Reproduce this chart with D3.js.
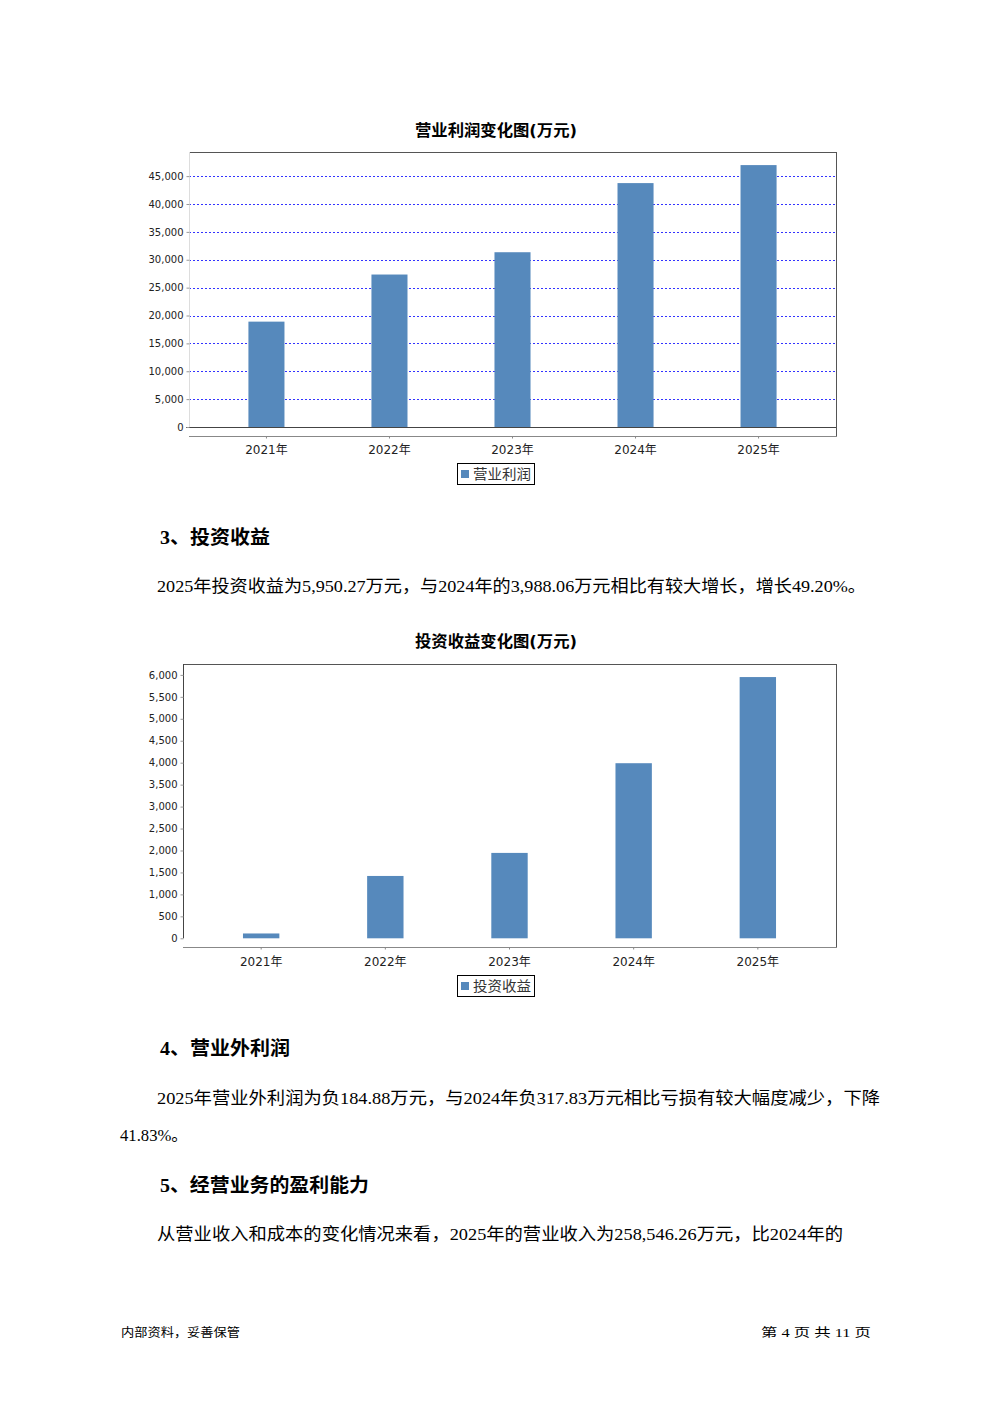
<!DOCTYPE html>
<html><head><meta charset="utf-8">
<script src="https://cdn.jsdelivr.net/npm/d3@7"></script>
<style>
html,body{margin:0;padding:0;background:#fff;}
svg{display:block;}
</style></head>
<body>
<svg id="page" width="992" height="1403"></svg>
<script>
// ---- data ----
const years = ["2021年", "2022年", "2023年", "2024年", "2025年"];
const opProfit = [18900, 27350, 31350, 43750, 46980];
const invIncome = [110, 1420, 1945, 3988.06, 5950.27];
const opTicks = [0, 5000, 10000, 15000, 20000, 25000, 30000, 35000, 40000, 45000];
const invTicks = [0, 500, 1000, 1500, 2000, 2500, 3000, 3500, 4000, 4500, 5000, 5500, 6000];
const opTitle = "营业利润变化图(万元)";
const invTitle = "投资收益变化图(万元)";
const opLegend = "营业利润";
const invLegend = "投资收益";

const svg = d3.select("#page");
const fmt = d3.format(",");
const BAR = "#5689bc";
const serif = "'Liberation Serif','Noto Sans CJK SC',serif";
const sans = "'DejaVu Sans','Noto Sans CJK SC',sans-serif";

function text(x, y, str, opt) {
  const t = svg.append("text").attr("x", x).attr("y", y).text(str)
    .attr("dominant-baseline", "central")
    .attr("font-family", opt.family || serif)
    .attr("font-size", opt.size || 17)
    .attr("font-weight", opt.weight || "normal")
    .attr("fill", opt.fill || "#000");
  if (opt.anchor) t.attr("text-anchor", opt.anchor);
  if (opt.len) t.attr("textLength", opt.len).attr("lengthAdjust", "spacingAndGlyphs");
  return t;
}

function barChart(cfg) {
  const {left, right, top, zeroY, axisY, values, ticks, grid, title, legend, yAxisColor, zeroLine} = cfg;
  const x = d3.scaleBand().domain(years).range([left, right]).paddingInner(0.707).paddingOuter(0.483);
  const y = d3.scaleLinear().domain([0, d3.max(values) * 1.05]).range([zeroY, top]);
  const g = svg.append("g");

  text((cfg.titleX0 + cfg.titleX1) / 2, cfg.titleY, title, {size: 16, weight: "bold", anchor: "middle", len: cfg.titleX1 - cfg.titleX0, family: sans});

  if (grid) {
    g.append("g").selectAll("line").data(ticks.filter(d => d > 0)).join("line")
      .attr("x1", left).attr("x2", right - 1)
      .attr("y1", d => Math.round(y(d)) + 0.5).attr("y2", d => Math.round(y(d)) + 0.5)
      .attr("stroke", "#3333ff").attr("stroke-width", 1).attr("stroke-dasharray", "2,2");
  }

  g.append("g").selectAll("rect").data(values).join("rect")
    .attr("x", (d, i) => x(years[i])).attr("width", x.bandwidth())
    .attr("y", d => y(d)).attr("height", d => zeroY - y(d))
    .attr("fill", BAR);

  g.append("line").attr("x1", left).attr("x2", right + 0.5).attr("y1", top + 0.5).attr("y2", top + 0.5).attr("stroke", "#555");
  g.append("line").attr("x1", right + 0.5).attr("x2", right + 0.5).attr("y1", top).attr("y2", axisY + 1).attr("stroke", "#555");

  if (zeroLine) {
    g.append("line").attr("x1", left - 3).attr("x2", right).attr("y1", zeroY + 0.5).attr("y2", zeroY + 0.5).attr("stroke", "#444");
  }

  const yAxis = d3.axisLeft(y).tickValues(ticks).tickFormat(fmt).tickSize(3).tickPadding(3);
  const ya = g.append("g").attr("transform", `translate(${left + 0.5},0)`).call(yAxis);
  ya.select(".domain").attr("stroke", yAxisColor).attr("d", `M-0,${top}V${zeroY}`);
  ya.selectAll(".tick line").attr("stroke", "#999");
  ya.selectAll(".tick text").attr("font-family", sans).attr("font-size", 10).attr("fill", "#222");

  const xAxis = d3.axisBottom(x).tickSize(2).tickPadding(cfg.xPad);
  const xa = g.append("g").attr("transform", `translate(0,${axisY + 0.5})`).call(xAxis);
  xa.select(".domain").attr("stroke", "#888").attr("d", `M${left},0H${right + 1}`);
  xa.selectAll(".tick line").attr("stroke", "#888");
  xa.selectAll(".tick text").attr("font-family", sans).attr("font-size", 12).attr("fill", "#222");

  const lx = cfg.legendX, ly = cfg.legendY;
  g.append("rect").attr("x", lx + 0.5).attr("y", ly + 0.5).attr("width", 77).attr("height", 21)
    .attr("fill", "#fff").attr("stroke", "#000");
  g.append("rect").attr("x", lx + 4).attr("y", ly + 7).attr("width", 8).attr("height", 8).attr("fill", BAR);
  text(lx + 16, ly + 11, legend, {size: 14, family: sans, fill: "#333", len: 58});
}

barChart({left: 189, right: 836, top: 152, zeroY: 427, axisY: 436, values: opProfit, ticks: opTicks,
  grid: true, title: opTitle, legend: opLegend, yAxisColor: "#ddd", zeroLine: true, xPad: 7,
  titleX0: 415, titleX1: 577, titleY: 130, legendX: 457, legendY: 463});

barChart({left: 183, right: 836, top: 664, zeroY: 938.3, axisY: 947, values: invIncome, ticks: invTicks,
  grid: false, title: invTitle, legend: invLegend, yAxisColor: "#444", zeroLine: false, xPad: 8,
  titleX0: 415, titleX1: 577, titleY: 641, legendX: 457, legendY: 975});

// ---- body text ----
text(160, 537, "3、投资收益", {size: 19, weight: "bold", len: 110});
text(157, 586, "2025年投资收益为5,950.27万元，与2024年的3,988.06万元相比有较大增长，增长49.20%。", {size: 17, len: 709});
text(160, 1048, "4、营业外利润", {size: 19, weight: "bold", len: 130});
text(157, 1098, "2025年营业外利润为负184.88万元，与2024年负317.83万元相比亏损有较大幅度减少，下降", {size: 17, len: 723});
text(120, 1135, "41.83%。", {size: 17, len: 68});
text(160, 1185, "5、经营业务的盈利能力", {size: 19, weight: "bold", len: 209});
text(157, 1234, "从营业收入和成本的变化情况来看，2025年的营业收入为258,546.26万元，比2024年的", {size: 17, len: 686});

// footer
text(121, 1333, "内部资料，妥善保管", {size: 12, len: 119});
text(761, 1333, "第 4 页  共 11 页", {size: 12, len: 110});
</script>
</body></html>
